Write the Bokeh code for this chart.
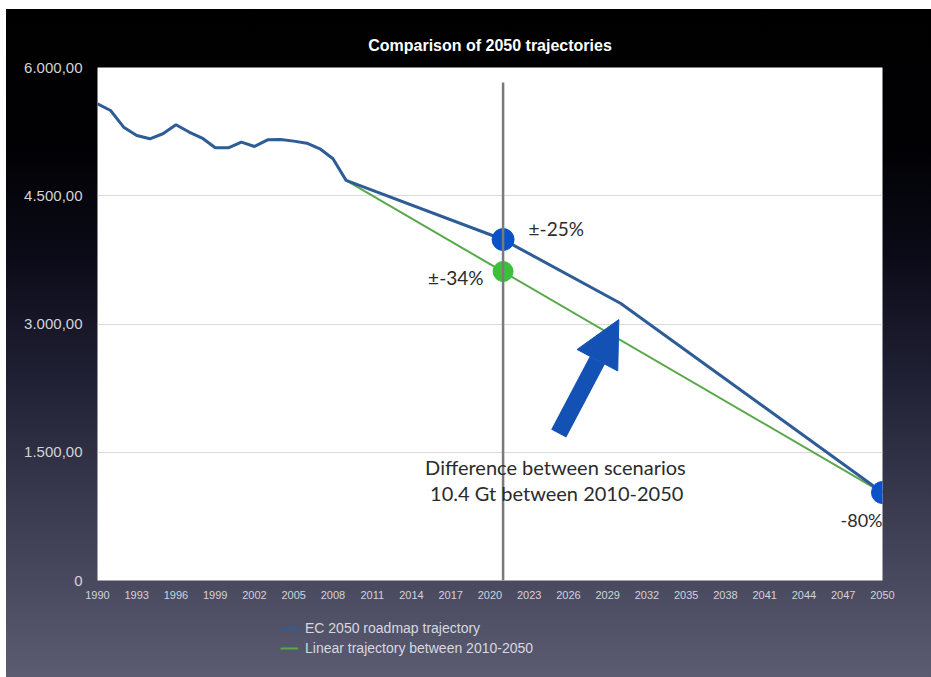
from bokeh.plotting import figure
from bokeh.layouts import column
from bokeh.models import (FixedTicker, Label, Arrow, NormalHead, Legend, LegendItem,
                          InlineStyleSheet)
from bokeh.embed import file_html
from bokeh.resources import INLINE

# ---------------- data ----------------
hist_years = [1990, 1991, 1992, 1993, 1994, 1995, 1996, 1997, 1998, 1999,
              2000, 2001, 2002, 2003, 2004, 2005, 2006, 2007, 2008]
hist_values = [5575, 5497, 5302, 5205, 5166, 5225, 5330, 5245, 5175, 5061,
               5061, 5127, 5076, 5154, 5158, 5139, 5115, 5049, 4932]
ec_years = [2009, 2021, 2030, 2050]
ec_values = [4680, 3988, 3240, 1029]
linear_years = [2009, 2050]
linear_values = [4680, 1029]
blue_dot_years = [2021, 2050]
blue_dot_values = [3988, 1029]
green_dot_years = [2021]
green_dot_values = [3614]
x_ticks = list(range(1990, 2051, 3))
y_ticks = [0, 1500, 3000, 4500, 6000]
y_tick_labels = ["0", "1.500,00", "3.000,00", "4.500,00", "6.000,00"]
series_names = ["EC 2050 roadmap trajectory", "Linear trajectory between 2010-2050"]
title_text = "Comparison of 2050 trajectories"
marker_year = 2021
marker_top = 5825
arrow_from = (2025.25, 1719)
arrow_to = (2029.85, 3052)
notes = [  # text, x, y, align, size
    ("\u00b1-25%", 2022.95, 4117, "left", "19px"),
    ("\u00b1-34%", 2019.5, 3544, "right", "19px"),
    ("Difference between scenarios", 2025.0, 1322, "center", "20px"),
    ("10.4 Gt between 2010-2050", 2025.1, 1018, "center", "20px"),
    ("-80%", 2050.0, 702, "right", "18px"),
]

ec_all_years = hist_years + ec_years
ec_all_values = hist_values + ec_values

BLUE_LINE = "#2d5c96"
GREEN_LINE = "#5aa84c"

# ---------------- main figure ----------------
p = figure(width=931, height=610, output_backend="svg", toolbar_location=None,
           x_range=(1990, 2050), y_range=(0, 6000),
           min_border_left=97, min_border_right=49, min_border_top=67, min_border_bottom=30)
p.border_fill_alpha = 0
p.background_fill_color = "white"
p.outline_line_color = None

# title
p.title.text = title_text
p.title.align = "center"
p.title.text_font = "Liberation Sans"
p.title.text_font_style = "bold"
p.title.text_font_size = "16px"
p.title.text_color = "white"
p.title.standoff = 27

# axes
p.xaxis.ticker = FixedTicker(ticks=x_ticks)
p.yaxis.ticker = FixedTicker(ticks=y_ticks)
p.yaxis.major_label_overrides = {t: l for t, l in zip(y_ticks, y_tick_labels)}
for ax in (p.xaxis, p.yaxis):
    ax.axis_line_color = None
    ax.major_tick_line_color = None
    ax.minor_tick_line_color = None
    ax.major_tick_out = 0
    ax.major_tick_in = 0
    ax.minor_tick_out = 0
    ax.minor_tick_in = 0
    ax.major_label_text_font = "Liberation Sans"
p.yaxis.major_label_text_font_size = "15px"
p.yaxis.major_label_text_color = "#d4d4d8"
p.yaxis.major_label_standoff = 15
p.xaxis.major_label_text_font_size = "11px"
p.xaxis.major_label_text_color = "#d2d2da"
p.xaxis.major_label_standoff = 10

p.xgrid.grid_line_color = None
p.ygrid.ticker = FixedTicker(ticks=y_ticks)
p.ygrid.grid_line_color = "#d9d9d9"
p.ygrid.grid_line_width = 1

# vertical marker line
p.add_layout(Arrow(end=None, x_start=marker_year, y_start=marker_top,
                   x_end=marker_year, y_end=0, line_color="#7a7a7a", line_width=2.5))

# lines
r_lin = p.line(linear_years, linear_values, line_color=GREEN_LINE, line_width=2)
r_ec = p.line(ec_all_years, ec_all_values, line_color=BLUE_LINE, line_width=3)

# dots
p.scatter(blue_dot_years, blue_dot_values, size=22, fill_color="#0b52c8", line_color="#0b52c8")
p.scatter(green_dot_years, green_dot_values, size=20, fill_color="#3cc03c", line_color="#3cc03c")

# big arrow
p.add_layout(Arrow(end=NormalHead(size=46, fill_color="#1451b5", line_color="#1451b5"),
                   x_start=arrow_from[0], y_start=arrow_from[1],
                   x_end=arrow_to[0], y_end=arrow_to[1],
                   line_color="#1451b5", line_width=17))

# annotations
for txt, x, y, al, sz in notes:
    p.add_layout(Label(x=x, y=y, text=txt, text_align=al, text_baseline="middle",
                       text_font="Lato", text_font_size=sz, text_color="#2b2b2b"))

# ---------------- legend strip (series drawn off-view, legend only) ----------------
q = figure(width=931, height=67, output_backend="svg", toolbar_location=None,
           x_axis_type=None, y_axis_type=None, x_range=(0, 1), y_range=(0, 1),
           min_border=0)
q.border_fill_alpha = 0
q.background_fill_alpha = 0
q.outline_line_color = None
q.grid.visible = False
l_ec = q.line(ec_all_years, ec_all_values, line_color=BLUE_LINE, line_width=3)
l_lin = q.line(linear_years, linear_values, line_color=GREEN_LINE, line_width=2)
legend = Legend(items=[LegendItem(label=series_names[0], renderers=[l_ec]),
                       LegendItem(label=series_names[1], renderers=[l_lin])],
                location=(183, 19), orientation="vertical",
                background_fill_alpha=0, border_line_color=None,
                label_text_font="Liberation Sans", label_text_font_size="14px",
                label_text_color="#d8d8e0", glyph_width=18, glyph_height=20,
                label_height=20, spacing=0, padding=0, margin=0, label_standoff=7)
q.add_layout(legend, "center")

layout = column(p, q, spacing=0, stylesheets=[InlineStyleSheet(css=(
    ":host { background:"
    " linear-gradient(#ffffff, #ffffff) top left / 100% 9px no-repeat,"
    " linear-gradient(#ffffff, #ffffff) top left / 6px 100% no-repeat,"
    " linear-gradient(180deg, #000000 0%, #010104 22%, #0b0b18 38%, #1f1f33 55%,"
    " #3a3b50 75%, #5b5c72 100%); }"))])

open("out.html", "w").write(file_html(layout, INLINE))
